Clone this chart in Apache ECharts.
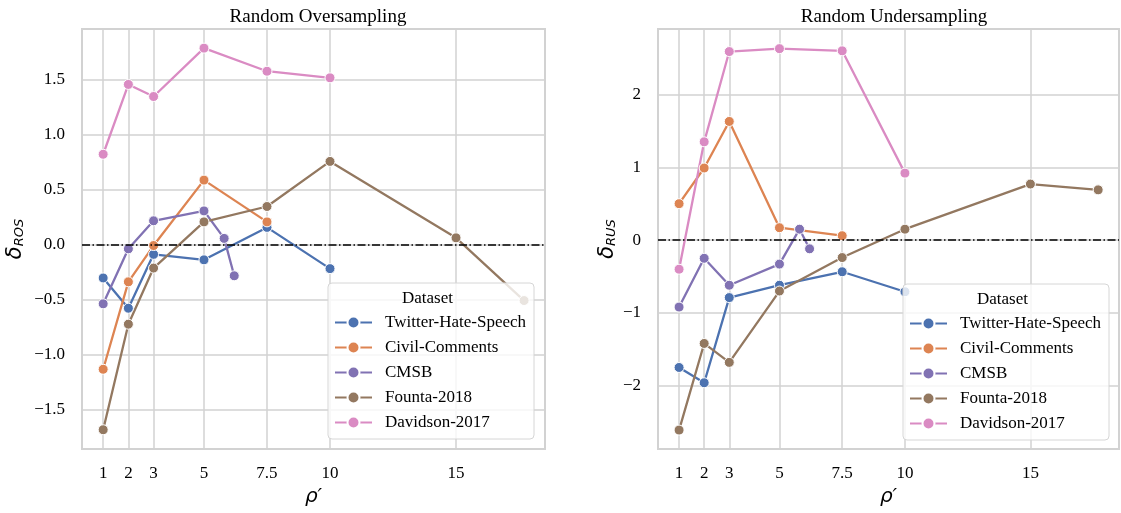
<!DOCTYPE html>
<html>
<head>
<meta charset="utf-8">
<script src="https://cdn.jsdelivr.net/npm/echarts@6/dist/echarts.min.js"></script>
<style>
  html, body { margin: 0; padding: 0; background: #fff; }
  #chart { width: 1121px; height: 513px; }
</style>
</head>
<body>
<div id="chart"></div>
<script>
// datasets and colours (seaborn "deep")
const datasets = ['Twitter-Hate-Speech', 'Civil-Comments', 'CMSB', 'Founta-2018', 'Davidson-2017'];
const colors = ['#4C72B0', '#DD8452', '#8172B3', '#937860', '#DA8BC3'];

// x values (rho') per dataset
const twitterX = [1, 2, 3, 5, 7.5, 10];
const civilX = [1, 2, 3, 5, 7.5];
const cmsbX = [1, 2, 3, 5, 5.8, 6.2];
const fountaX = [1, 2, 3, 5, 7.5, 10, 15, 17.7];
const davidsonX = [1, 2, 3, 5, 7.5, 10];

// Random Oversampling
const twitterROS = [-0.30, -0.575, -0.085, -0.135, 0.16, -0.215];
const civilROS = [-1.13, -0.335, -0.005, 0.59, 0.21];
const cmsbROS = [-0.535, -0.035, 0.22, 0.31, 0.06, -0.28];
const fountaROS = [-1.68, -0.72, -0.21, 0.21, 0.35, 0.76, 0.065, -0.505];
const davidsonROS = [0.825, 1.46, 1.35, 1.79, 1.58, 1.52];

// Random Undersampling
const twitterRUS = [-1.75, -1.96, -0.79, -0.62, -0.435, -0.71];
const civilRUS = [0.50, 0.99, 1.63, 0.17, 0.06];
const cmsbRUS = [-0.92, -0.25, -0.62, -0.33, 0.15, -0.12];
const fountaRUS = [-2.61, -1.42, -1.68, -0.70, -0.24, 0.15, 0.77, 0.69];
const davidsonRUS = [-0.40, 1.35, 2.59, 2.63, 2.60, 0.92];

// tick labels
const rhoTicks = [1, 2, 3, 5, 7.5, 10, 15];
const rosTicks = [-1.5, -1, -0.5, 0, 0.5, 1, 1.5];
const rusTicks = [-2, -1, 0, 1, 2];

const xsList = [twitterX, civilX, cmsbX, fountaX, davidsonX];
const rosList = [twitterROS, civilROS, cmsbROS, fountaROS, davidsonROS];
const rusList = [twitterRUS, civilRUS, cmsbRUS, fountaRUS, davidsonRUS];

const serif = 'Liberation Serif';
const gridColor = '#d2d2d2';
const minus = s => String(s).replace('-', '\u2212');

function makeSeries(values, gridIdx) {
  return datasets.map((name, i) => {
    const s = {
      name: name,
      type: 'line',
      xAxisIndex: gridIdx,
      yAxisIndex: gridIdx,
      data: xsList[i].map((x, k) => [x, values[i][k]]),
      symbol: 'circle',
      symbolSize: 10,
      color: colors[i],
      lineStyle: { width: 2.3, color: colors[i] },
      itemStyle: { color: colors[i], borderColor: '#fff', borderWidth: 1 },
      emphasis: { disabled: true }
    };
    // black dash-dot reference line at 0
    if (i === 0) {
      s.markLine = {
        silent: true,
        symbol: 'none',
        label: { show: false },
        lineStyle: { color: '#000', width: 1.5, type: [8, 2.5, 1.5, 2.5] },
        data: [{ yAxis: 0 }]
      };
    }
    return s;
  });
}

function xAxisOf(gridIdx) {
  return {
    type: 'value',
    gridIndex: gridIdx,
    min: 0.16,
    max: 18.53,
    name: '\u03C1\u2032',
    nameLocation: 'middle',
    nameGap: 38,
    nameTextStyle: { fontFamily: 'DejaVu Sans', fontStyle: 'italic', fontSize: 20, color: '#000' },
    axisLine: { show: false },
    axisTick: { show: false, customValues: rhoTicks },
    axisLabel: { customValues: rhoTicks, margin: 16, fontFamily: serif, fontSize: 17, color: '#000', formatter: v => String(v) },
    splitLine: { show: true, lineStyle: { color: gridColor, width: 1.5 } }
  };
}

function yAxisOf(gridIdx, ticks, min, max, sub, gap, dec) {
  return {
    type: 'value',
    gridIndex: gridIdx,
    min: min,
    max: max,
    name: '{d|\u03B4}{s|' + sub + '}',
    nameLocation: 'middle',
    nameRotate: 90,
    nameGap: gap,
    nameTextStyle: {
      rich: {
        d: { fontFamily: 'DejaVu Sans', fontStyle: 'italic', fontSize: 21, color: '#000', verticalAlign: 'bottom', lineHeight: 22 },
        s: { fontFamily: 'DejaVu Sans', fontStyle: 'italic', fontSize: 13, color: '#000', verticalAlign: 'bottom', lineHeight: 16 }
      }
    },
    axisLine: { show: false },
    axisTick: { show: false, customValues: ticks },
    axisLabel: { customValues: ticks, margin: 17, fontFamily: serif, fontSize: 17, color: '#000', formatter: v => minus(v.toFixed(dec)) },
    splitLine: { show: true, lineStyle: { color: gridColor, width: 1.5 } }
  };
}

function legendOf(left, top) {
  return {
    left: left,
    top: top,
    orient: 'vertical',
    data: datasets,
    itemWidth: 37,
    itemHeight: 15,
    itemGap: 8,
    padding: [31, 8, 8, 6],
    backgroundColor: 'rgba(255,255,255,0.8)',
    borderColor: '#d6d6d6',
    borderWidth: 1,
    borderRadius: 4,
    selectedMode: false,
    textStyle: { fontFamily: serif, fontSize: 17, color: '#000', lineHeight: 17, padding: [0, 0, 0, 8] }
  };
}

const chart = echarts.init(document.getElementById('chart'), null, { renderer: 'canvas' });
const option = {
  animation: false,
  backgroundColor: '#fff',
  title: [
    { text: 'Random Oversampling', left: 313, top: 3, textAlign: 'center',
      textStyle: { fontFamily: serif, fontSize: 19, fontWeight: 'normal', color: '#000' } },
    { text: 'Random Undersampling', left: 889, top: 3, textAlign: 'center',
      textStyle: { fontFamily: serif, fontSize: 19, fontWeight: 'normal', color: '#000' } }
  ],
  grid: [
    { left: 82, top: 29, width: 463, height: 420, show: true, borderColor: gridColor, borderWidth: 2, backgroundColor: 'transparent' },
    { left: 658, top: 29, width: 461, height: 420, show: true, borderColor: gridColor, borderWidth: 2, backgroundColor: 'transparent' }
  ],
  xAxis: [xAxisOf(0), xAxisOf(1)],
  yAxis: [
    yAxisOf(0, rosTicks, -1.855, 1.964, 'ROS', 56, 1),
    yAxisOf(1, rusTicks, -2.87, 2.90, 'RUS', 40, 0)
  ],
  legend: [legendOf(328, 283), legendOf(903, 284)],
  graphic: [
    { type: 'text', left: 432 - 30, top: 290, z: 100,
      style: { text: 'Dataset', fontFamily: serif, fontSize: 17, fill: '#000' } },
    { type: 'text', left: 1007 - 30, top: 291, z: 100,
      style: { text: 'Dataset', fontFamily: serif, fontSize: 17, fill: '#000' } }
  ],
  series: makeSeries(rosList, 0).concat(makeSeries(rusList, 1))
};
chart.setOption(option);
</script>
</body>
</html>
